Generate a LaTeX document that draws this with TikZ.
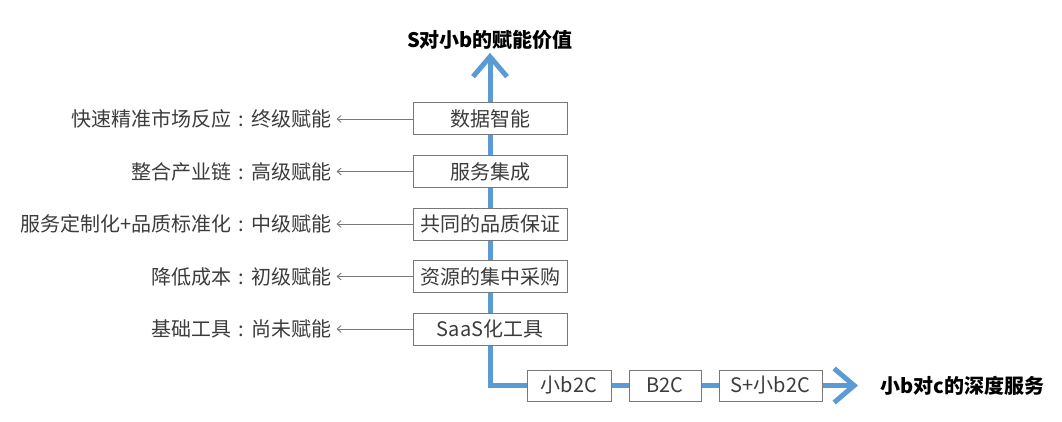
\documentclass[tikz,border=0pt]{standalone}
\usepackage{fontspec}
\setmainfont{Noto Sans CJK SC}
\usetikzlibrary{arrows.meta, positioning, backgrounds}
\definecolor{flowblue}{RGB}{91,155,213}
\definecolor{boxgray}{RGB}{120,120,120}
\definecolor{txtgray}{RGB}{60,60,60}
\newcommand{\cln}{\makebox[1em]{:}}

\begin{document}
\begin{tikzpicture}[
  x=1pt, y=-1pt,
  node distance=19.5pt,
  box/.style={draw=boxgray, line width=1pt, fill=white, align=center, inner sep=0pt,
              font=\fontsize{20}{24}\selectfont, text=txtgray,
              minimum width=154pt, minimum height=32pt},
  sbox/.style={box, minimum height=31pt},
  lbl/.style={font=\fontsize{20}{24}\selectfont, text=txtgray, inner sep=3pt},
  head/.style={font=\bfseries\fontsize{20}{24}\selectfont, inner sep=3pt},
  flow/.style={line width=5pt, draw=flowblue,
               {Straight Barb[length=20pt, width=34pt]}-{Straight Barb[length=20pt, width=34pt]}},
  arr/.style={-{Straight Barb[length=4pt, width=7pt]}, draw=boxgray, line width=0.9pt,
              shorten >=2pt}
]
\useasboundingbox (0,0) rectangle (1062,422);
\node[head] (top) at (490,40) {S对小b的赋能价值};
\node[box] (dz) at (490,119) {数据智能};
\node[box, below=of dz] (fw) {服务集成};
\node[box, below=of fw] (pz) {共同的品质保证};
\node[box, below=of pz] (cg) {资源的集中采购};
\node[box, below=of cg] (saas) {SaaS化工具};
\node[sbox, minimum width=84pt] (xb) at (569,385.5) {小b2C};
\node[sbox, minimum width=72pt, right=17pt of xb] (bc) {B2C};
\node[sbox, minimum width=103pt, right=17pt of bc] (sb) {S+小b2C};
\node[head, anchor=west] (deep) at (877,385.5) {小b对c的深度服务};
% left side: stages of enabling
\node[lbl, left=78pt of dz, anchor=east] (l1) {快速精准市场反应\cln 终级赋能};
\node[lbl, left=78pt of fw, anchor=east] (l2) {整合产业链\cln 高级赋能};
\node[lbl, left=78pt of pz, anchor=east] (l3) {服务定制化+品质标准化\cln 中级赋能};
\node[lbl, left=78pt of cg, anchor=east] (l4) {降低成本\cln 初级赋能};
\node[lbl, left=78pt of saas, anchor=east] (l5) {基础工具\cln 尚未赋能};
\draw[arr] (dz) -- (l1);
\draw[arr] (fw) -- (l2);
\draw[arr] (pz) -- (l3);
\draw[arr] (cg) -- (l4);
\draw[arr] (saas) -- (l5);
\coordinate (corner) at (dz.center |- xb.center);
\begin{scope}[on background layer]
\draw[flow, shorten >=19pt] (top.south) -- (corner) -- (deep.west);
\end{scope}
\end{tikzpicture}
\end{document}
